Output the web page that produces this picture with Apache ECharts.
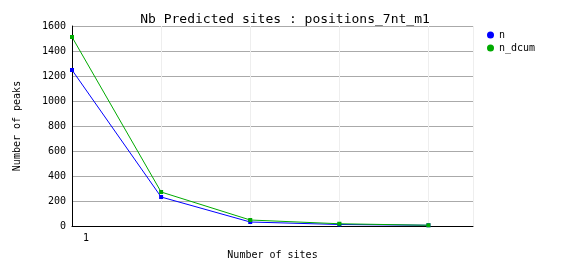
<!DOCTYPE html>
<html><head><meta charset="utf-8">
<script src="https://cdn.jsdelivr.net/npm/echarts@6/dist/echarts.min.js"></script>
<style>html,body{margin:0;padding:0;background:#fff}#c{width:562px;height:278px}</style>
</head><body><div id="c"></div>
<script>
const sites = [1, 2, 3, 4, 5];
const nValues = [1248, 232, 32, 12, 6];
const nDcumValues = [1512, 272, 48, 18, 6];
const yTicks = [0, 200, 400, 600, 800, 1000, 1200, 1400, 1600];

const mono = 'DejaVu Sans Mono';
const chart = echarts.init(document.getElementById('c'), null, {renderer: 'canvas'});
chart.setOption({
  animation: false,
  backgroundColor: '#fff',
  title: {
    text: 'Nb Predicted sites : positions_7nt_m1',
    left: 280, top: 8, textAlign: 'center',
    textStyle: {fontFamily: mono, fontSize: 13, fontWeight: 'normal', color: '#000'}
  },
  legend: {
    orient: 'vertical', left: 482, top: 25, itemGap: 3,
    itemWidth: 7, itemHeight: 7,
    icon: 'circle',
    textStyle: {fontFamily: mono, fontSize: 10, color: '#000'},
    data: ['n', 'n_dcum']
  },
  grid: {left: 72, right: 89, top: 26, bottom: 52, containLabel: false},
  xAxis: {
    type: 'value', min: sites[0], max: 5.5, interval: 1,
    name: 'Number of sites', nameLocation: 'middle', nameGap: 24,
    nameTextStyle: {fontFamily: mono, fontSize: 10, color: '#000'},
    axisLine: {lineStyle: {color: '#000', width: 1}},
    axisTick: {show: false},
    axisLabel: {
      fontFamily: mono, fontSize: 10, color: '#000', margin: 7,
      formatter: v => (v === sites[0] ? String(v) : ''),
      padding: [0, 0, 0, 28]
    },
    splitLine: {show: true, lineStyle: {color: '#eeeeee', width: 1}}
  },
  yAxis: {
    type: 'value', min: yTicks[0], max: yTicks[yTicks.length - 1], interval: 200,
    name: 'Number of peaks', nameLocation: 'middle', nameGap: 50, nameRotate: 90,
    nameTextStyle: {fontFamily: mono, fontSize: 10, color: '#000'},
    axisLine: {show: true, lineStyle: {color: '#000', width: 1}},
    axisTick: {show: false},
    axisLabel: {fontFamily: mono, fontSize: 10, color: '#000', margin: 6, formatter: v => String(v)},
    splitLine: {show: true, lineStyle: {color: '#aaaaaa', width: 1}}
  },
  series: [
    {name: 'n', type: 'line', data: sites.map((s, i) => [s, nValues[i]]),
     color: '#0000ff', lineStyle: {width: 1}, symbol: 'rect', symbolSize: 4, z: 2},
    {name: 'n_dcum', type: 'line', data: sites.map((s, i) => [s, nDcumValues[i]]),
     color: '#00aa00', lineStyle: {width: 1}, symbol: 'rect', symbolSize: 4, z: 3}
  ]
});
</script></body></html>
